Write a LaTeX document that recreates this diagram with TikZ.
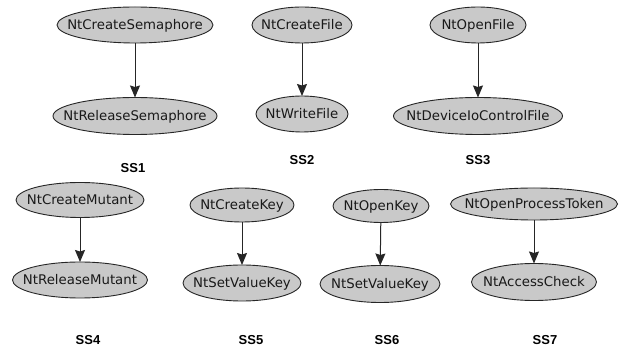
\documentclass[tikz,border=0pt]{standalone}
\usepackage{fontspec}
\setmainfont{DejaVu Sans}
\newfontfamily\labfont{Liberation Sans}
\usetikzlibrary{shapes.geometric,arrows.meta}
\newcommand{\fnl}[1]{\makebox[0pt][c]{\raisebox{-0.36em}[0pt][0pt]{#1}}}
\begin{document}
\begin{tikzpicture}[x=1pt,y=-1pt,
  fn/.style={ellipse,draw=black!85,line width=0.9pt,fill=gray!42,inner sep=0pt,outer sep=0pt,
    font=\fontsize{13.3}{14}\selectfont,text=black!90},
  sslab/.style={font=\labfont\bfseries\fontsize{13}{14}\selectfont},
  call/.style={draw=black!85,line width=1pt,-{Stealth[length=12pt,width=10pt,inset=1.5pt]}}]
\useasboundingbox[fill=white] (0,0) rectangle (632,352);
% SS1
\node[fn,minimum width=156pt,minimum height=36pt] (a1) at (135,25) {\fnl{NtCreateSemaphore}};
\node[fn,minimum width=164pt,minimum height=37pt] (b1) at (135,116) {\fnl{NtReleaseSemaphore}};
\node[sslab] (l1) at (133,168) {SS1};
% SS2
\node[fn,minimum width=100pt,minimum height=36pt] (a2) at (302,25) {\fnl{NtCreateFile}};
\node[fn,minimum width=92pt,minimum height=36pt] (b2) at (302,114) {\fnl{NtWriteFile}};
\node[sslab] (l2) at (302,160) {SS2};
% SS3
\node[fn,minimum width=96pt,minimum height=36pt] (a3) at (478,25) {\fnl{NtOpenFile}};
\node[fn,minimum width=169pt,minimum height=37pt] (b3) at (478,116) {\fnl{NtDeviceIoControlFile}};
\node[sslab] (l3) at (478,160) {SS3};
% SS4
\node[fn,minimum width=128pt,minimum height=35pt] (a4) at (80,200) {\fnl{NtCreateMutant}};
\node[fn,minimum width=135pt,minimum height=36pt] (b4) at (80,280) {\fnl{NtReleaseMutant}};
\node[sslab] (l4) at (88,340) {SS4};
% SS5
\node[fn,minimum width=104pt,minimum height=34pt] (a5) at (242,205) {\fnl{NtCreateKey}};
\node[fn,minimum width=118pt,minimum height=36pt] (b5) at (242,283) {\fnl{NtSetValueKey}};
\node[sslab] (l5) at (251,340) {SS5};
% SS6
\node[fn,minimum width=96pt,minimum height=33pt] (a6) at (381,206) {\fnl{NtOpenKey}};
\node[fn,minimum width=120pt,minimum height=37pt] (b6) at (380,284) {\fnl{NtSetValueKey}};
\node[sslab] (l6) at (387,340) {SS6};
% SS7
\node[fn,minimum width=167pt,minimum height=32pt] (a7) at (534,204) {\fnl{NtOpenProcessToken}};
\node[fn,minimum width=125pt,minimum height=37pt] (b7) at (534,282) {\fnl{NtAccessCheck}};
\node[sslab] (l7) at (545,340) {SS7};
% connectors
\draw[call] (a1) -- (b1);
\draw[call] (a2) -- (b2);
\draw[call] (a3) -- (b3);
\draw[call] (a4) -- (b4);
\draw[call] (a5) -- (b5);
\draw[call] (a6) -- (b6);
\draw[call] (a7) -- (b7);
\end{tikzpicture}
\end{document}
